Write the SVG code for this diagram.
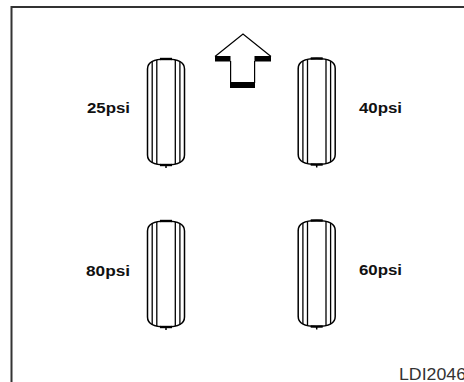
<svg xmlns="http://www.w3.org/2000/svg" xmlns:xlink="http://www.w3.org/1999/xlink" width="464" height="382" viewBox="0 0 464 382">
<style>
.ol{fill:none;stroke:#000;stroke-width:1.5}
.ln{stroke:#000;stroke-width:1.3}
.lbl{font-family:"Liberation Sans",Arial,sans-serif;font-weight:bold;font-size:14px;fill:#111}
.code{font-family:"Liberation Sans",Arial,sans-serif;font-size:16px;fill:#333}
</style>
<defs>
<clipPath id="tc"><path d="M-18.5,-43 C-18.5,-50 -12,-53 0,-53 C12,-53 18.5,-50 18.5,-43 V43 C18.5,50 12,53 0,53 C-12,53 -18.5,50 -18.5,43 Z"/></clipPath>
<g id="tire">
<path d="M-18.5,-43 C-18.5,-50 -12,-53 0,-53 C12,-53 18.5,-50 18.5,-43 V43 C18.5,50 12,53 0,53 C-12,53 -18.5,50 -18.5,43 Z" fill="#fff"/>
<g clip-path="url(#tc)">
<line class="ln" x1="-13.8" y1="-60" x2="-13.8" y2="60"/>
<line class="ln" x1="-9.2" y1="-60" x2="-9.2" y2="60"/>
<line class="ln" x1="9.3" y1="-60" x2="9.3" y2="60"/>
<line class="ln" x1="13.9" y1="-60" x2="13.9" y2="60"/>
</g>
<path class="ol" d="M-18.5,-43 C-18.5,-50 -12,-53 0,-53 C12,-53 18.5,-50 18.5,-43 V43 C18.5,50 12,53 0,53 C-12,53 -18.5,50 -18.5,43 Z"/>
<line x1="-6" y1="-53" x2="6" y2="-53" stroke="#000" stroke-width="2.4"/>
<line x1="-6" y1="53" x2="6" y2="53" stroke="#000" stroke-width="2.4"/>
<line x1="0" y1="53" x2="0" y2="56" stroke="#000" stroke-width="1.5"/>
</g>
</defs>
<g id="frame"><path d="M11.5,382 V7 H464" fill="none" stroke="#333" stroke-width="2"/></g>
<g id="arrow">
<path d="M215,56.5 L243,34 L271,56.5" fill="none" stroke="#000" stroke-width="1.2"/>
<rect x="215" y="56" width="15.5" height="5.5" fill="#000"/>
<rect x="254.5" y="56" width="16.5" height="5.5" fill="#000"/>
<rect x="230" y="82" width="25" height="6" fill="#000"/>
<line x1="230.6" y1="61" x2="230.6" y2="83" stroke="#000" stroke-width="1.2"/>
<line x1="254.6" y1="61" x2="254.6" y2="83" stroke="#000" stroke-width="1.2"/>
</g>
<g id="tire-fl"><use xlink:href="#tire" transform="translate(166,112)"/><text class="lbl" x="87" y="113" textLength="43" lengthAdjust="spacingAndGlyphs">25psi</text></g>
<g id="tire-fr"><use xlink:href="#tire" transform="translate(316.7,111.5)"/><text class="lbl" x="359" y="113" textLength="43" lengthAdjust="spacingAndGlyphs">40psi</text></g>
<g id="tire-rl"><use xlink:href="#tire" transform="translate(166,274)"/><text class="lbl" x="86" y="276" textLength="44" lengthAdjust="spacingAndGlyphs">80psi</text></g>
<g id="tire-rr"><use xlink:href="#tire" transform="translate(316.7,273.5)"/><text class="lbl" x="359" y="275" textLength="43" lengthAdjust="spacingAndGlyphs">60psi</text></g>
<text class="code" x="399" y="380" textLength="67" lengthAdjust="spacingAndGlyphs">LDI2046</text>
</svg>
